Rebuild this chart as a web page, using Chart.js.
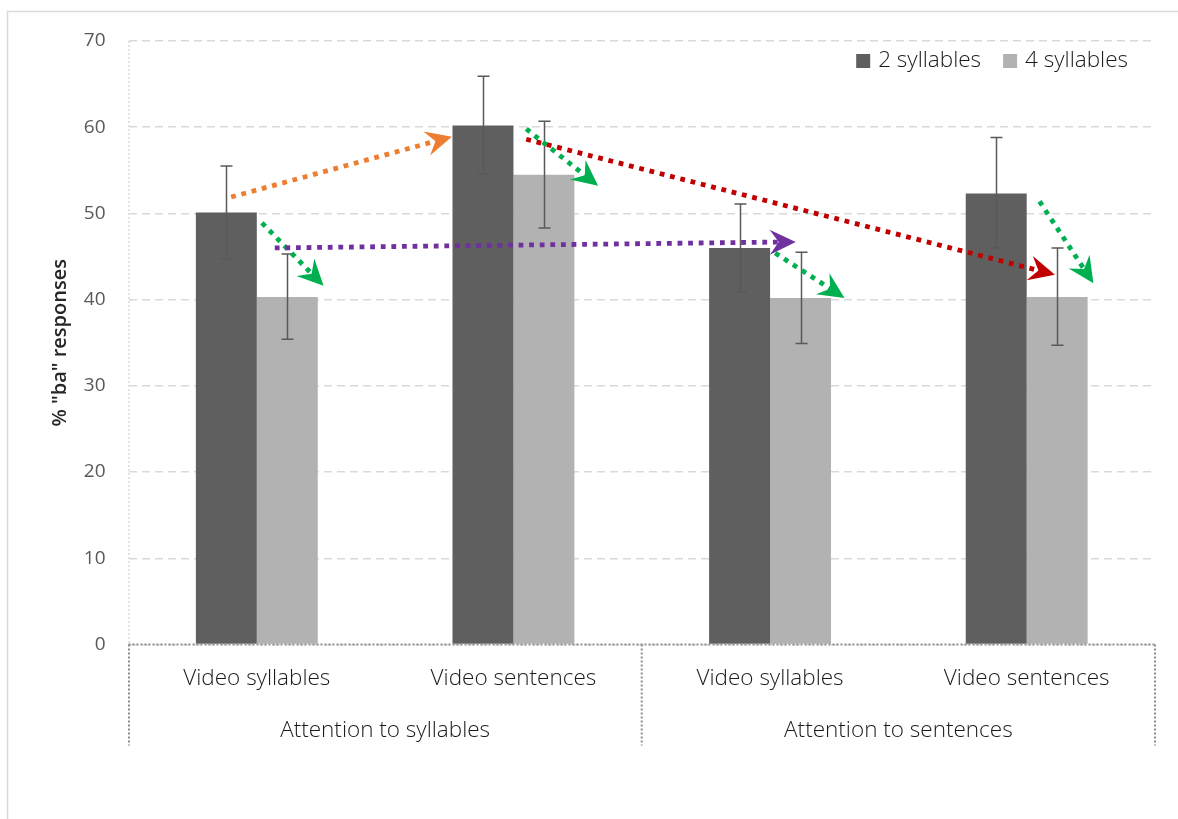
<!DOCTYPE html>
<html>
<head>
<meta charset="utf-8">
<script src="https://cdn.jsdelivr.net/npm/chart.js"></script>
<style>
  body { margin: 0; background: #fff; }
  #wrap { width: 1178px; height: 819px; }
</style>
</head>
<body>
<div id="wrap"><canvas id="myChart"></canvas></div>
<script>
const categories = ['Video syllables', 'Video sentences', 'Video syllables', 'Video sentences'];
const groups = ['Attention to syllables', 'Attention to sentences'];
const twoSyll = [50.1, 60.2, 46.0, 52.3];
const twoLow = [44.7, 54.6, 40.9, 46.0];
const twoHigh = [55.5, 65.9, 51.1, 58.8];
const fourSyll = [40.3, 54.5, 40.2, 40.3];
const fourLow = [35.4, 48.3, 34.9, 34.7];
const fourHigh = [45.3, 60.7, 45.5, 46.0];
const yMin = 0, yMax = 70, yStep = 10;

// arrows: [category position, value] start -> tip
const arrows = [
  { from: [-0.10, 51.9], to: [0.76, 58.9], color: '#ed7d31' },
  { from: [0.02, 48.9], to: [0.26, 41.6], color: '#00b050' },
  { from: [0.07, 46.0], to: [2.10, 46.7], color: '#7030a0' },
  { from: [1.05, 59.8], to: [1.33, 53.2], color: '#00b050' },
  { from: [1.05, 58.6], to: [3.11, 42.9], color: '#c00000' },
  { from: [2.02, 45.4], to: [2.29, 40.2], color: '#00b050' },
  { from: [3.05, 51.4], to: [3.26, 41.9], color: '#00b050' }
];

const FONT = '"Open Sans", "DejaVu Sans", sans-serif';
const TEXT = '300 22.5px ' + FONT;

const frame = {
  id: 'frame',
  beforeDraw(chart) {
    const ctx = chart.ctx;
    ctx.save();
    ctx.strokeStyle = '#d9d9d9';
    ctx.lineWidth = 1.5;
    ctx.strokeRect(7.5, 11.5, 1300, 900);
    ctx.restore();
  }
};

const errorBars = {
  id: 'errorBars',
  afterDatasetsDraw(chart) {
    const ctx = chart.ctx;
    const y = chart.scales.y;
    const lows = [twoLow, fourLow], highs = [twoHigh, fourHigh];
    ctx.save();
    ctx.strokeStyle = '#595959';
    ctx.lineWidth = 1.5;
    chart.data.datasets.forEach((ds, di) => {
      chart.getDatasetMeta(di).data.forEach((bar, i) => {
        const x = Math.round(bar.x) + 0.5;
        const y1 = y.getPixelForValue(lows[di][i]);
        const y2 = y.getPixelForValue(highs[di][i]);
        ctx.beginPath();
        ctx.moveTo(x, y1); ctx.lineTo(x, y2);
        ctx.moveTo(x - 6, y1); ctx.lineTo(x + 6, y1);
        ctx.moveTo(x - 6, y2); ctx.lineTo(x + 6, y2);
        ctx.stroke();
      });
    });
    ctx.restore();
  }
};

const arrowPlugin = {
  id: 'arrows',
  afterDatasetsDraw(chart) {
    const ctx = chart.ctx;
    const xs = chart.scales.x, ys = chart.scales.y;
    ctx.save();
    arrows.forEach(a => {
      const x1 = xs.getPixelForValue(a.from[0]), y1 = ys.getPixelForValue(a.from[1]);
      const x2 = xs.getPixelForValue(a.to[0]), y2 = ys.getPixelForValue(a.to[1]);
      const len = Math.hypot(x2 - x1, y2 - y1);
      const ux = (x2 - x1) / len, uy = (y2 - y1) / len;
      const px = -uy, py = ux;
      const L = 26, W = 12.5, N = 17;
      ctx.strokeStyle = a.color;
      ctx.lineWidth = 4.8;
      ctx.lineCap = 'butt';
      ctx.setLineDash([4.8, 5.8]);
      ctx.beginPath();
      ctx.moveTo(x1, y1);
      ctx.lineTo(x2 - ux * N, y2 - uy * N);
      ctx.stroke();
      ctx.setLineDash([]);
      ctx.fillStyle = a.color;
      ctx.beginPath();
      ctx.moveTo(x2, y2);
      ctx.lineTo(x2 - ux * L + px * W, y2 - uy * L + py * W);
      ctx.lineTo(x2 - ux * N, y2 - uy * N);
      ctx.lineTo(x2 - ux * L - px * W, y2 - uy * L - py * W);
      ctx.closePath();
      ctx.fill();
    });
    ctx.restore();
  }
};

const decor = {
  id: 'decor',
  afterDraw(chart) {
    const ctx = chart.ctx;
    const area = chart.chartArea;
    const xs = chart.scales.x;
    const bottom = chart.scales.y.getPixelForValue(0);
    ctx.save();
    // y axis line
    ctx.setLineDash([2, 2]);
    ctx.lineWidth = 1.5;
    ctx.strokeStyle = '#d9d9d9';
    ctx.beginPath();
    ctx.moveTo(area.left + 0.5, area.top);
    ctx.lineTo(area.left + 0.5, bottom);
    ctx.stroke();
    // x axis + separators
    ctx.strokeStyle = '#8f8f8f';
    ctx.lineWidth = 2;
    ctx.beginPath();
    ctx.moveTo(area.left, bottom);
    ctx.lineTo(area.right, bottom);
    [area.left + 0.5, xs.getPixelForValue(1.5), area.right].forEach(x => {
      ctx.moveTo(x, bottom);
      ctx.lineTo(x, bottom + 101);
    });
    ctx.stroke();
    ctx.setLineDash([]);
    // group labels
    ctx.fillStyle = '#1a1a1a';
    ctx.font = TEXT;
    ctx.textAlign = 'center';
    ctx.textBaseline = 'middle';
    groups.forEach((g, gi) => {
      const cx = (xs.getPixelForValue(gi * 2 - 0.5) + xs.getPixelForValue(gi * 2 + 1.5)) / 2;
      ctx.fillText(g, cx, 731);
    });
    // y title
    ctx.save();
    ctx.translate(60, (area.top + bottom) / 2);
    ctx.rotate(-Math.PI / 2);
    ctx.font = '600 20px ' + FONT;
    ctx.fillStyle = '#262626';
    ctx.fillText('% "ba" responses', 0, 0);
    ctx.restore();
    // legend
    ctx.font = TEXT;
    ctx.textAlign = 'left';
    const ds = chart.data.datasets;
    let total = 0;
    ds.forEach((d, i) => { total += 22 + ctx.measureText(d.label).width + (i ? 22 : 0); });
    let x = area.right - 27 - total;
    ds.forEach((d, i) => {
      if (i) x += 22;
      ctx.fillStyle = d.backgroundColor;
      ctx.fillRect(x, 54, 14, 14);
      x += 22;
      ctx.fillStyle = '#1a1a1a';
      ctx.fillText(d.label, x, 61);
      x += ctx.measureText(d.label).width;
    });
    ctx.restore();
  }
};

const ctx = document.getElementById('myChart');

new Chart(ctx, {
  type: 'bar',
  data: {
    labels: categories,
    datasets: [
      { label: '2 syllables', data: twoSyll, backgroundColor: '#5f5f5f' },
      { label: '4 syllables', data: fourSyll, backgroundColor: '#b2b2b2' }
    ]
  },
  options: {
    responsive: true,
    maintainAspectRatio: false,
    animation: false,
    categoryPercentage: 0.475,
    barPercentage: 1,
    layout: { padding: { top: 41, right: 23, left: 0, bottom: 0 } },
    plugins: { legend: { display: false }, tooltip: { enabled: false } },
    scales: {
      x: {
        grid: { display: false, drawTicks: false },
        border: { display: false },
        ticks: { color: '#1a1a1a', font: { family: FONT, size: 22.5, weight: 300 }, padding: 21, maxRotation: 0, autoSkip: false },
        afterFit(s) { s.height = 174.5; }
      },
      y: {
        min: yMin, max: yMax,
        grid: { color: '#d9d9d9', lineWidth: 1.5, drawTicks: false },
        border: { display: false, dash: [8, 5] },
        ticks: { stepSize: yStep, color: '#595959', font: { family: FONT, size: 19, weight: 400 }, padding: 23 },
        afterFit(s) { s.width = 128.5; }
      }
    }
  },
  plugins: [frame, errorBars, arrowPlugin, decor]
});
</script>
</body>
</html>
